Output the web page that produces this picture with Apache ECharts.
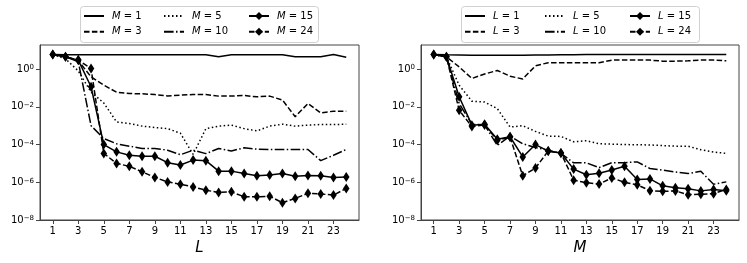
<!DOCTYPE html>
<html>
<head>
<meta charset="utf-8">
<script src="https://cdn.jsdelivr.net/npm/echarts@6/dist/echarts.min.js"></script>
<style>
html,body{margin:0;padding:0;background:#fff;}
#chart{width:747px;height:263px;}
</style>
</head>
<body>
<div id="chart"></div>
<script>
// ---- data ----
const xValues = [1,2,3,4,5,6,7,8,9,10,11,12,13,14,15,16,17,18,19,20,21,22,23,24];
const xTicks = [1,3,5,7,9,11,13,15,17,19,21,23];
const yTicks = [1e-8,1e-6,1e-4,1e-2,1];

// Left panel: x = L, one series per M
const leftM1  = [6.0,5.8,5.8,5.8,5.8,5.8,5.8,5.8,5.8,5.8,5.8,5.8,5.8,4.5,5.8,5.8,5.8,5.8,5.8,4.5,4.5,4.5,5.9,4.3];
const leftM3  = [6.0,4.5,2.8,0.39,0.14,0.06,0.051,0.049,0.045,0.038,0.042,0.045,0.045,0.037,0.037,0.040,0.034,0.037,0.023,0.003,0.015,0.0048,0.0059,0.0059];
const leftM5  = [6.0,3.5,0.8,0.06,0.016,1.6e-3,1.3e-3,9.5e-4,8e-4,7e-4,4e-4,3e-5,7e-4,9.5e-4,1.07e-3,7e-4,5.3e-4,9.5e-4,1.2e-3,9.5e-4,1.07e-3,1.15e-3,1.15e-3,1.2e-3];
const leftM10 = [6.0,4.5,2.5,1.0e-3,2.1e-4,1.1e-4,8.2e-5,6.2e-5,6.2e-5,5.0e-5,2.9e-5,5.0e-5,3.3e-5,6.2e-5,4.6e-5,6.7e-5,5.7e-5,5.5e-5,5.5e-5,5.5e-5,5.5e-5,1.4e-5,2.7e-5,5.5e-5];
const leftM15 = [6.0,4.5,3.0,0.116,1.0e-4,4.1e-5,2.7e-5,2.4e-5,2.4e-5,1.1e-5,8.2e-6,1.5e-5,1.4e-5,3.9e-6,3.9e-6,2.9e-6,2.2e-6,2.4e-6,2.9e-6,2.1e-6,2.3e-6,2.2e-6,1.8e-6,1.9e-6];
const leftM24 = [6.0,4.5,3.0,1.08,3.4e-5,1.0e-5,7.0e-6,3.6e-6,1.8e-6,1.05e-6,7.9e-7,5.7e-7,3.8e-7,2.9e-7,3.1e-7,1.7e-7,1.7e-7,1.8e-7,8.3e-8,1.4e-7,2.6e-7,2.4e-7,2.1e-7,4.7e-7];

// Right panel: x = M, one series per L
const rightL1  = [6.0,5.7,5.6,5.5,5.5,5.5,5.5,5.5,5.6,5.6,5.7,5.8,6.0,6.0,6.0,6.0,6.0,6.0,6.0,6.0,6.0,6.0,6.0,6.0];
const rightL3  = [6.0,4.5,1.3,0.32,0.55,0.85,0.42,0.3,1.5,2.2,2.2,2.2,2.2,2.2,3.0,3.0,3.0,3.0,2.65,2.65,2.75,3.0,3.0,2.75];
const rightL5  = [6.0,4.5,0.14,0.02,0.018,8e-3,8.5e-4,1.0e-3,5e-4,2.8e-4,2.7e-4,1.4e-4,1.6e-4,1.1e-4,1.05e-4,1.0e-4,9.8e-5,9.5e-5,8.8e-5,8.2e-5,8.2e-5,5.3e-5,4e-5,3.4e-5];
const rightL10 = [6.0,4.5,0.015,1.2e-3,1.1e-3,9e-5,2.8e-4,1.1e-4,7e-5,5e-5,3.4e-5,1.07e-5,1.07e-5,6e-6,1.1e-5,1.1e-5,1.2e-5,5.4e-6,4.4e-6,3.5e-6,2.9e-6,3.8e-6,7.9e-7,1.05e-6];
const rightL15 = [6.0,4.5,0.034,1.07e-3,1.2e-3,1.9e-4,2.6e-4,2.2e-5,1.0e-4,4.5e-5,3.6e-5,5e-6,2.5e-6,3.0e-6,4.5e-6,7.0e-6,1.4e-6,1.5e-6,6.5e-7,5.2e-7,4.5e-7,3.5e-7,4.2e-7,3.6e-7];
const rightL24 = [6.0,4.5,6.5e-3,9e-4,1.1e-3,1.7e-4,2.5e-4,2.2e-6,5.7e-6,4.5e-5,3.6e-5,1.3e-6,9.5e-7,8e-7,1.7e-6,1.0e-6,7.3e-7,3.6e-7,3.3e-7,3.5e-7,2.2e-7,2.3e-7,2.5e-7,4.2e-7];

// ---- styles ----
const FONT = 'DejaVu Sans';
const AX = '#444';
const lw = 1.5;
const styles = {
  solid:   {type:'solid', diamond:false},
  dashed:  {type:[5.5,2.4], diamond:false},
  dotted:  {type:[1.5,2.5], diamond:false},
  dashdot: {type:[9.6,2.4,1.5,2.4], diamond:false},
  dsolid:  {type:'solid', diamond:true},
  ddashed: {type:[5.5,2.4], diamond:true}
};

function mkSeries(name, vals, st, idx){
  const s = styles[st];
  return {
    name: name, type:'line', xAxisIndex: idx, yAxisIndex: idx,
    data: xValues.map((x,i)=>[x, vals[i]]),
    symbol: s.diamond ? 'diamond' : 'none',
    symbolSize: [6.5,10],
    showSymbol: s.diamond,
    itemStyle: {color:'#000'},
    lineStyle: {color:'#000', width: lw, type: s.type, cap:'butt'},
    emphasis: {disabled:true},
    silent: true,
    z: s.diamond ? 3 : 2
  };
}

const leftDefs = [['M=1',leftM1,'solid'],['M=3',leftM3,'dashed'],['M=5',leftM5,'dotted'],['M=10',leftM10,'dashdot'],['M=15',leftM15,'dsolid'],['M=24',leftM24,'ddashed']];
const rightDefs = [['L=1',rightL1,'solid'],['L=3',rightL3,'dashed'],['L=5',rightL5,'dotted'],['L=10',rightL10,'dashdot'],['L=15',rightL15,'dsolid'],['L=24',rightL24,'ddashed']];

const series = [];
leftDefs.forEach(d=>series.push(mkSeries(d[0],d[1],d[2],0)));
rightDefs.forEach(d=>series.push(mkSeries(d[0],d[1],d[2],1)));

function supLabel(v){
  const e = Math.round(Math.log10(v));
  const es = e < 0 ? '\u2212' + (-e) : String(e);
  return '{b|10}{s|' + es + '}';
}

function xAxisCfg(idx, name){
  return {
    type:'value', gridIndex: idx, min: 0, max: 25,
    name: name, nameLocation:'middle', nameGap: 17,
    nameTextStyle: {fontFamily: FONT, fontSize: 15, fontStyle:'italic', color:'#000'},
    axisLine: {show:true, lineStyle:{color:AX, width:1}},
    axisTick: {show:true, length:4, lineStyle:{color:AX}, customValues: xTicks},
    axisLabel: {customValues: xTicks, fontFamily: FONT, fontSize: 10, color:'#000', margin: 6},
    splitLine: {show:false}
  };
}
function yAxisCfg(idx){
  return {
    type:'log', gridIndex: idx, min: 1e-8, max: 19, logBase: 10,
    axisLine: {show:true, lineStyle:{color:AX, width:1}},
    axisTick: {show:true, length:4, lineStyle:{color:AX}, customValues: yTicks},
    axisLabel: {
      customValues: yTicks, margin: 6, color:'#000',
      formatter: supLabel,
      rich: {
        b: {fontFamily: FONT, fontSize: 10, lineHeight: 10, padding:[3,0,3,0], color:'#000'},
        s: {fontFamily: FONT, fontSize: 7, lineHeight: 7, verticalAlign:'top', color:'#000'}
      }
    },
    splitLine: {show:false},
    minorTick: {show:false}
  };
}

function legendFmt(name){
  const p = name.split('=');
  return '{i|' + p[0] + '}{n| = ' + p[1] + '}';
}
// one legend per column (two rows each)
function mkLegend(names, left, hasSymbol){
  return {
    left: left, top: 11, orient:'vertical', padding: 0, itemGap: 5.7,
    itemWidth: 20, itemHeight: 10,
    selectedMode: false,
    data: names.map(n=>hasSymbol ? {name:n} : {name:n, itemStyle:{color:'rgba(0,0,0,0)', borderWidth:0, opacity:0}}),
    formatter: legendFmt,
    textStyle: {
      fontFamily: FONT, fontSize: 10, lineHeight: 10, color:'#000', padding:[0,0,0,3],
      rich: {
        i: {fontFamily: FONT, fontSize: 10, lineHeight: 10, fontStyle:'italic', color:'#000'},
        n: {fontFamily: FONT, fontSize: 10, lineHeight: 10, color:'#000'}
      }
    }
  };
}

const gridW = 319, gridH = 175, gridTop = 45;
const option = {
  animation: false,
  backgroundColor: '#fff',
  grid: [
    {left: 40, top: gridTop, width: gridW, height: gridH, show: true, borderColor: AX, borderWidth: 1, backgroundColor:'transparent'},
    {left: 421, top: gridTop, width: gridW - 1, height: gridH, show: true, borderColor: AX, borderWidth: 1, backgroundColor:'transparent'}
  ],
  xAxis: [xAxisCfg(0,'L'), xAxisCfg(1,'M')],
  yAxis: [yAxisCfg(0), yAxisCfg(1)],
  legend: [
    mkLegend(['M=1','M=3'], 83, false),
    mkLegend(['M=5','M=10'], 163, false),
    mkLegend(['M=15','M=24'], 248, true),
    mkLegend(['L=1','L=3'], 464, false),
    mkLegend(['L=5','L=10'], 544, false),
    mkLegend(['L=15','L=24'], 629, true)
  ],
  graphic: [
    {type:'rect', shape:{x:80.5, y:6.5, width:238, height:36, r:3}, style:{fill:'#fff', stroke:'#d0d0d0', lineWidth:1}, z:-1, silent:true},
    {type:'rect', shape:{x:461.5, y:6.5, width:238, height:36, r:3}, style:{fill:'#fff', stroke:'#d0d0d0', lineWidth:1}, z:-1, silent:true}
  ],
  series: series
};

const chart = echarts.init(document.getElementById('chart'), null, {renderer:'canvas'});
chart.setOption(option);
</script>
</body>
</html>
